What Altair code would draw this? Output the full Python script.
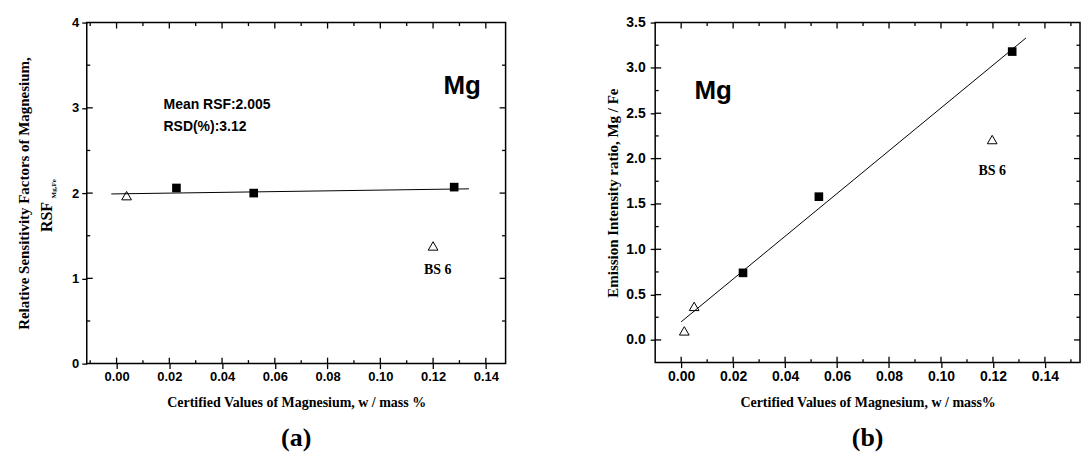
import altair as alt
import pandas as pd

# ---------------- data ----------------
a_sq_x = [0.0227, 0.052, 0.128]
a_sq_y = [2.06, 2.00, 2.07]
a_tri_x = [0.0038, 0.120]
a_tri_y = [1.97, 1.38]
a_fit_x = [-0.002, 0.1336]
a_fit_y = [1.99, 2.05]

b_sq_x = [0.0238, 0.053, 0.1274]
b_sq_y = [0.74, 1.58, 3.18]
b_tri_x = [0.0012, 0.005, 0.1197]
b_tri_y = [0.10, 0.37, 2.21]
b_fit_x = [0.0, 0.1327]
b_fit_y = [0.20, 3.33]

# tick positions
x_major = [0.00, 0.02, 0.04, 0.06, 0.08, 0.10, 0.12, 0.14]
a_x_minor = [-0.01, 0.01, 0.03, 0.05, 0.07, 0.09, 0.11, 0.13]
b_x_minor = [0.01, 0.03, 0.05, 0.07, 0.09, 0.11, 0.13, 0.15]
a_y_major = [0, 1, 2, 3, 4]
a_y_minor = [0.5, 1.5, 2.5, 3.5]
b_y_major = [0.0, 0.5, 1.0, 1.5, 2.0, 2.5, 3.0, 3.5]
b_y_minor = [0.25, 0.75, 1.25, 1.75, 2.25, 2.75, 3.25]

SANS = "Liberation Sans"
SERIF = "Liberation Serif"
MAJ = 6
MIN = 3.5
TK = 5


def panel(sq_x, sq_y, tri_x, tri_y, fit_x, fit_y, xdom, ydom, x_minor,
          y_major, y_minor, yfmt, xtitle, ytitle, texts, w, h, ptitle,
          lsize, ylabpad, ytitlepad):
    xs = alt.Scale(domain=xdom, nice=False, zero=False)
    ys = alt.Scale(domain=ydom, nice=False, zero=False)
    xaxis = alt.Axis(orient="bottom", values=x_major, format=".2f",
                     domain=False, ticks=True, tickSize=TK, tickWidth=1.3,
                     tickColor="black", grid=False, labelPadding=2,
                     labelFont=SANS, labelFontWeight="bold",
                     labelFontSize=lsize, labelColor="black",
                     title=xtitle, titleFont=SERIF, titleFontSize=14,
                     titleFontWeight="bold", titleColor="black",
                     titlePadding=12)
    yaxis = alt.Axis(orient="left", values=y_major, format=yfmt,
                     domain=False, ticks=True, tickSize=TK, tickWidth=1.3,
                     tickColor="black", grid=False,
                     labelPadding=ylabpad - TK,
                     labelFont=SANS, labelFontWeight="bold",
                     labelFontSize=lsize, labelColor="black",
                     title=ytitle, titleFont=SERIF, titleFontSize=15,
                     titleFontWeight="bold", titleColor="black",
                     titlePadding=ytitlepad)

    def X(f="x"):
        return alt.X(f + ":Q", scale=xs, axis=None)

    def Y(f="y"):
        return alt.Y(f + ":Q", scale=ys, axis=None)

    fit = pd.DataFrame({"x": fit_x, "y": fit_y})
    sq = pd.DataFrame({"x": sq_x, "y": sq_y})
    tri = pd.DataFrame({"x": tri_x, "y": tri_y})

    layers = [
        alt.Chart(fit).mark_line(color="black", strokeWidth=1).encode(
            x=alt.X("x:Q", scale=xs, axis=xaxis),
            y=alt.Y("y:Q", scale=ys, axis=yaxis)),
        alt.Chart(sq).mark_point(shape="square", filled=True, color="black",
                                 size=75, opacity=1).encode(x=X(), y=Y()),
        alt.Chart(tri).mark_point(shape="triangle-up", filled=False,
                                  color="black", size=95, strokeWidth=1,
                                  opacity=1).encode(x=X(), y=Y()),
    ]
    # inward ticks on all four sides (short rules)
    for vals, L in ((x_major, MAJ), (x_minor, MIN)):
        vals = [v for v in vals if xdom[0] < v < xdom[1]]
        for yv, off in ((ydom[0], -L), (ydom[1], L)):
            df = pd.DataFrame({"x": vals, "y": [yv] * len(vals)})
            layers.append(alt.Chart(df).mark_rule(
                color="black", strokeWidth=1.3, opacity=1,
                y2Offset=off).encode(x=X(), y=Y(), y2="y:Q"))
    for vals, L in ((y_major, MAJ), (y_minor, MIN)):
        vals = [v for v in vals if ydom[0] < v < ydom[1]]
        for xv, off in ((xdom[0], L), (xdom[1], -L)):
            df = pd.DataFrame({"x": [xv] * len(vals), "y": vals})
            layers.append(alt.Chart(df).mark_rule(
                color="black", strokeWidth=1.3, opacity=1,
                x2Offset=off).encode(x=X(), x2="x:Q", y=Y()))
    for t in texts:
        df = pd.DataFrame({"x": [t["x"]], "y": [t["y"]], "t": [t["text"]]})
        layers.append(alt.Chart(df).mark_text(
            font=t["font"], fontSize=t["size"], fontWeight="bold",
            color="black", align=t.get("align", "center"), baseline="middle",
            angle=t.get("angle", 0)).encode(x=X(), y=Y(), text="t:N"))
    return alt.layer(*layers).resolve_axis(
        x="independent", y="independent").properties(
        width=w, height=h,
        title=alt.TitleParams(ptitle, orient="bottom", font=SERIF, fontSize=26,
                              fontWeight="bold", color="black", offset=16))


a_texts = [
    {"x": 0.131, "y": 3.26, "text": "Mg", "font": SANS, "size": 26},
    {"x": 0.0178, "y": 3.03, "text": "Mean RSF:2.005", "font": SANS,
     "size": 14, "align": "left"},
    {"x": 0.0178, "y": 2.77, "text": "RSD(%):3.12", "font": SANS,
     "size": 14, "align": "left"},
    {"x": 0.1218, "y": 1.10, "text": "BS 6", "font": SERIF, "size": 14},
    {"x": -0.0264, "y": 1.72, "text": "RSF", "font": SERIF, "size": 16,
     "angle": 270},
    {"x": -0.0238, "y": 2.05, "text": "Mg,Fe", "font": SERIF, "size": 7,
     "angle": 270},
]
b_texts = [
    {"x": 0.0123, "y": 2.75, "text": "Mg", "font": SANS, "size": 26},
    {"x": 0.1197, "y": 1.86, "text": "BS 6", "font": SERIF, "size": 14},
]

pa = panel(a_sq_x, a_sq_y, a_tri_x, a_tri_y, a_fit_x, a_fit_y,
           [-0.0113, 0.1475], [0, 4], a_x_minor, a_y_major, a_y_minor, "d",
           "Certified Values of Magnesium, w / mass %",
           "Relative Sensitivity Factors of Magnesium,",
           a_texts, 420, 342, "(a)", 13, 8, 40)
pb = panel(b_sq_x, b_sq_y, b_tri_x, b_tri_y, b_fit_x, b_fit_y,
           [-0.01, 0.1535], [-0.25, 3.5], b_x_minor, b_y_major, b_y_minor, ".1f",
           "Certified Values of Magnesium, w / mass%",
           "Emission Intensity ratio, Mg / Fe",
           b_texts, 426, 341, "(b)", 14, 10, 5)

chart = alt.hconcat(pa, pb, spacing=97).configure_view(
    stroke="black", strokeWidth=1.5).properties(
    padding={"left": 16, "top": 14, "right": 0, "bottom": 0},
    background="white")

chart.save("out.html", embed_options={"renderer": "svg", "actions": False})
